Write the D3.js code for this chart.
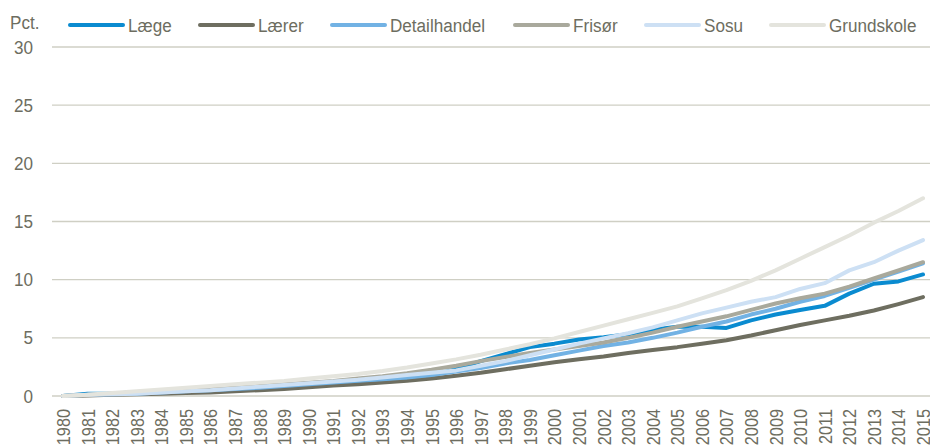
<!DOCTYPE html>
<html>
<head>
<meta charset="utf-8">
<script src="https://cdn.jsdelivr.net/npm/d3@7"></script>
<style>
  body { margin: 0; background: #fff; }
  svg { display: block; }
  text { font-family: "Liberation Sans", Arial, sans-serif; fill: #6d6d60; }
</style>
</head>
<body>
<script>
const years = d3.range(1980, 2016).map(String);

const laege = [0, 0.2, 0.2, 0.35, 0.35, 0.4, 0.5, 0.6, 0.7, 0.85, 1.0, 1.15, 1.3, 1.45, 1.6, 1.8,
  2.3, 3.0, 3.6, 4.2, 4.5, 4.85, 5.05, 5.3, 5.7, 5.95, 5.95, 5.85, 6.5, 7.0, 7.4, 7.75, 8.8, 9.65, 9.85, 10.45];
const laerer = [0, 0.05, 0.1, 0.15, 0.2, 0.25, 0.3, 0.4, 0.5, 0.6, 0.75, 0.9, 1.0, 1.15, 1.3, 1.5,
  1.75, 2.0, 2.3, 2.6, 2.9, 3.15, 3.4, 3.7, 3.95, 4.2, 4.5, 4.8, 5.2, 5.65, 6.1, 6.5, 6.9, 7.35, 7.9, 8.5];
const detailhandel = [0, 0.1, 0.15, 0.2, 0.3, 0.4, 0.5, 0.6, 0.7, 0.85, 1.0, 1.15, 1.3, 1.45, 1.6, 1.8,
  2.1, 2.4, 2.8, 3.1, 3.5, 3.9, 4.3, 4.6, 5.0, 5.45, 5.95, 6.4, 7.0, 7.5, 8.1, 8.6, 9.3, 10.0, 10.7, 11.4];
const frisoer = [0, 0.1, 0.2, 0.25, 0.35, 0.45, 0.6, 0.7, 0.85, 1.0, 1.15, 1.3, 1.5, 1.7, 1.95, 2.25,
  2.6, 3.0, 3.35, 3.7, 4.0, 4.3, 4.6, 5.0, 5.45, 5.95, 6.4, 6.85, 7.4, 7.95, 8.4, 8.8, 9.4, 10.1, 10.8, 11.5];
const sosu = [0, 0.1, 0.15, 0.2, 0.3, 0.4, 0.5, 0.65, 0.8, 0.95, 1.1, 1.25, 1.4, 1.6, 1.8, 2.0,
  2.2, 2.6, 3.0, 3.5, 4.0, 4.5, 4.95, 5.4, 5.9, 6.5, 7.1, 7.6, 8.1, 8.5, 9.2, 9.7, 10.8, 11.5, 12.5, 13.4];
const grundskole = [0, 0.1, 0.25, 0.4, 0.55, 0.7, 0.85, 1.0, 1.15, 1.3, 1.5, 1.7, 1.9, 2.15, 2.45, 2.8,
  3.15, 3.55, 4.0, 4.45, 4.95, 5.5, 6.05, 6.6, 7.15, 7.7, 8.4, 9.1, 9.9, 10.8, 11.8, 12.8, 13.8, 14.9, 15.9, 17.0];

const seriesNames = ["Læge", "Lærer", "Detailhandel", "Frisør", "Sosu", "Grundskole"];
const seriesValues = [laege, laerer, detailhandel, frisoer, sosu, grundskole];
const seriesColors = ["#0a8bd0", "#6e6e60", "#72b2e4", "#a9a99c", "#cde0f4", "#e4e4dd"];
const yTicks = [0, 5, 10, 15, 20, 25, 30];

const width = 930, height = 446,
      narrow = "scale(0.9,1)";

const svg = d3.select("body").append("svg")
  .attr("width", width)
  .attr("height", height);

const x = d3.scalePoint()
  .domain(years)
  .range([63, 923]);

const y = d3.scaleLinear()
  .domain([0, 30])
  .range([396, 47]);

// gridlines
svg.append("g")
  .selectAll("line")
  .data(yTicks)
  .enter().append("line")
  .attr("x1", 52)
  .attr("x2", width)
  .attr("y1", d => y(d))
  .attr("y2", d => y(d))
  .attr("stroke", "#cfcfc4")
  .attr("stroke-width", 1.4);

// y axis labels
const yAxis = d3.axisLeft(y).tickValues(yTicks).tickSize(0).tickPadding(0);
svg.append("g")
  .attr("transform", "translate(33,0)")
  .call(yAxis)
  .call(g => g.select(".domain").remove())
  .selectAll("text")
  .attr("transform", narrow)
  .style("font-size", "19px")
  .attr("fill", "#6d6d60");

svg.append("text")
  .attr("transform", "translate(10,29) " + narrow)
  .text("Pct.")
  .style("font-size", "19px");

// x axis labels
const xAxis = d3.axisBottom(x).tickSize(0).tickPadding(0);
svg.append("g")
  .attr("transform", "translate(0,409)")
  .call(xAxis)
  .call(g => g.select(".domain").remove())
  .selectAll("text")
  .attr("transform", "rotate(-90) scale(0.88,1)")
  .attr("text-anchor", "end")
  .attr("x", 0)
  .attr("y", 0)
  .attr("dy", "0.35em")
  .style("font-size", "18.5px")
  .attr("fill", "#6d6d60");

// lines
const line = d3.line()
  .x((d, i) => x(years[i]))
  .y(d => y(d));

svg.append("g")
  .selectAll("path")
  .data(seriesValues)
  .enter().append("path")
  .attr("d", line)
  .attr("fill", "none")
  .attr("stroke", (d, i) => seriesColors[i])
  .attr("stroke-width", 4)
  .attr("stroke-linejoin", "round")
  .attr("stroke-linecap", "round");

// legend
const legendX = [70, 200, 332, 515, 646, 771];
const legend = svg.selectAll(".legend")
  .data(seriesNames)
  .enter().append("g")
  .attr("class", "legend")
  .attr("transform", (d, i) => "translate(" + legendX[i] + ",25)");

legend.append("line")
  .attr("x1", 0)
  .attr("x2", 53)
  .attr("stroke", (d, i) => seriesColors[i])
  .attr("stroke-width", 4)
  .attr("stroke-linecap", "round");

legend.append("text")
  .attr("transform", "translate(58,0) " + narrow)
  .attr("dy", "0.35em")
  .text(d => d)
  .style("font-size", "19px");
</script>
</body>
</html>
